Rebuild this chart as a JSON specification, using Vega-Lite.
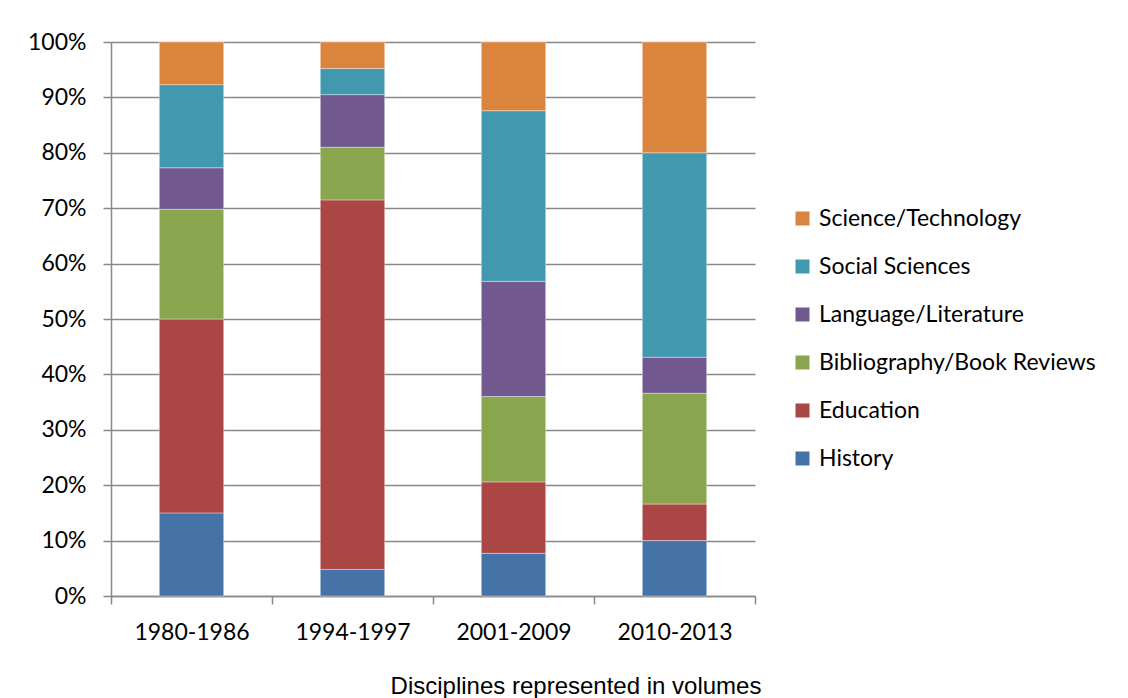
{
  "$schema": "https://vega.github.io/schema/vega-lite/v6.json",
  "width": 644,
  "height": 554,
  "autosize": {"type": "none"},
  "padding": {"left": 111, "top": 42, "right": 373, "bottom": 102},
  "background": "white",
  "config": {
    "view": {"stroke": null},
    "font": "Lato"
  },
  "data": {
    "values": [
      {"period": "1980-1986", "discipline": "History", "rank": 1, "pct": 15.0},
      {"period": "1980-1986", "discipline": "Education", "rank": 2, "pct": 35.0},
      {"period": "1980-1986", "discipline": "Bibliography/Book Reviews", "rank": 3, "pct": 19.8},
      {"period": "1980-1986", "discipline": "Language/Literature", "rank": 4, "pct": 7.5},
      {"period": "1980-1986", "discipline": "Social Sciences", "rank": 5, "pct": 15.0},
      {"period": "1980-1986", "discipline": "Science/Technology", "rank": 6, "pct": 7.7},
      {"period": "1994-1997", "discipline": "History", "rank": 1, "pct": 4.8},
      {"period": "1994-1997", "discipline": "Education", "rank": 2, "pct": 66.7},
      {"period": "1994-1997", "discipline": "Bibliography/Book Reviews", "rank": 3, "pct": 9.5},
      {"period": "1994-1997", "discipline": "Language/Literature", "rank": 4, "pct": 9.5},
      {"period": "1994-1997", "discipline": "Social Sciences", "rank": 5, "pct": 4.7},
      {"period": "1994-1997", "discipline": "Science/Technology", "rank": 6, "pct": 4.8},
      {"period": "2001-2009", "discipline": "History", "rank": 1, "pct": 7.7},
      {"period": "2001-2009", "discipline": "Education", "rank": 2, "pct": 12.9},
      {"period": "2001-2009", "discipline": "Bibliography/Book Reviews", "rank": 3, "pct": 15.4},
      {"period": "2001-2009", "discipline": "Language/Literature", "rank": 4, "pct": 20.8},
      {"period": "2001-2009", "discipline": "Social Sciences", "rank": 5, "pct": 30.8},
      {"period": "2001-2009", "discipline": "Science/Technology", "rank": 6, "pct": 12.4},
      {"period": "2010-2013", "discipline": "History", "rank": 1, "pct": 10.0},
      {"period": "2010-2013", "discipline": "Education", "rank": 2, "pct": 6.6},
      {"period": "2010-2013", "discipline": "Bibliography/Book Reviews", "rank": 3, "pct": 20.0},
      {"period": "2010-2013", "discipline": "Language/Literature", "rank": 4, "pct": 6.5},
      {"period": "2010-2013", "discipline": "Social Sciences", "rank": 5, "pct": 36.9},
      {"period": "2010-2013", "discipline": "Science/Technology", "rank": 6, "pct": 20.0}
    ]
  },
  "mark": {
    "type": "bar",
    "width": {"band": 0.4},
    "stroke": "white",
    "strokeWidth": 0.75,
    "strokeOpacity": 0.5
  },
  "encoding": {
    "x": {
      "field": "period",
      "type": "nominal",
      "sort": null,
      "scale": {"paddingInner": 0, "paddingOuter": 0},
      "axis": {
        "title": "Disciplines represented in volumes",
        "titleFont": "Liberation Sans",
        "titleFontSize": 24,
        "titleFontWeight": "normal",
        "titleColor": "black",
        "titleX": 464.5,
        "titleY": 97,
        "titleBaseline": "alphabetic",
        "titleAnchor": null,
        "labelAngle": 0,
        "labelFont": "Lato",
        "labelFontSize": 23,
        "labelColor": "black",
        "labelBaseline": "alphabetic",
        "labelPadding": 35,
        "tickBand": "extent",
        "tickSize": 8,
        "tickColor": "#898989",
        "tickWidth": 1.5,
        "domainColor": "#898989",
        "domainWidth": 1.5,
        "grid": false
      }
    },
    "y": {
      "field": "pct",
      "type": "quantitative",
      "stack": "normalize",
      "scale": {"domain": [0, 1], "nice": false},
      "axis": {
        "title": null,
        "format": ".0%",
        "values": [0, 0.1, 0.2, 0.3, 0.4, 0.5, 0.6, 0.7, 0.8, 0.9, 1],
        "labelFont": "Lato",
        "labelFontSize": 23,
        "labelColor": "black",
        "labelPadding": 17,
        "tickSize": 8,
        "tickColor": "#898989",
        "tickWidth": 1.5,
        "domainColor": "#898989",
        "domainWidth": 1.5,
        "grid": true,
        "gridColor": "#898989",
        "gridWidth": 1.5
      }
    },
    "color": {
      "field": "discipline",
      "type": "nominal",
      "scale": {
        "domain": ["Science/Technology", "Social Sciences", "Language/Literature", "Bibliography/Book Reviews", "Education", "History"],
        "range": ["#DB843D", "#4198AF", "#71588F", "#89A54E", "#AA4643", "#4572A7"]
      },
      "legend": {
        "title": null,
        "orient": "none",
        "legendX": 680,
        "legendY": 165,
        "symbolType": "square",
        "symbolSize": 196,
        "symbolStrokeWidth": 0,
        "symbolOpacity": 1,
        "labelFont": "Lato",
        "labelFontSize": 23,
        "labelColor": "black",
        "labelOffset": 5,
        "labelLimit": 400,
        "rowPadding": 24
      }
    },
    "order": {"field": "rank", "type": "quantitative", "sort": "ascending"}
  }
}
